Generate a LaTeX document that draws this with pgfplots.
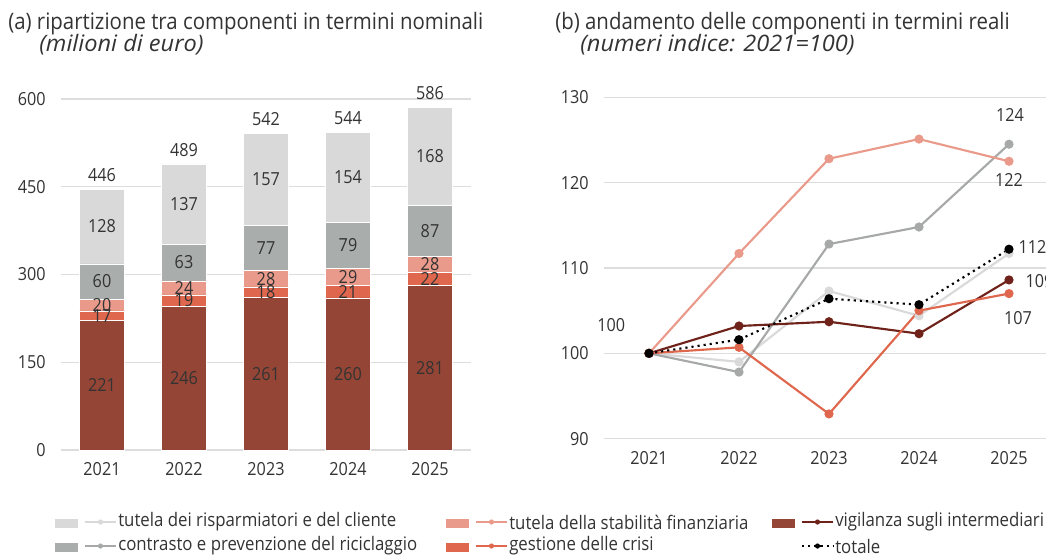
\documentclass[border=0pt]{standalone}
\usepackage{pgfplots}
\pgfplotsset{compat=1.18}
\usepackage{pgfplotstable}
\usepackage{fontspec}
\setmainfont{Open Sans}[FakeStretch=0.9]
\newfontfamily\itfont{Open Sans}[FakeStretch=1.04]

\definecolor{cTut}{HTML}{D9D9D9}
\definecolor{cCon}{HTML}{A9ADAB}
\definecolor{cConL}{HTML}{A6A9A7}
\definecolor{cSta}{HTML}{E99A8A}
\definecolor{cCri}{HTML}{DF674D}
\definecolor{cVig}{HTML}{954535}
\definecolor{cVigL}{HTML}{6E2219}
\definecolor{cTxt}{HTML}{333333}
\definecolor{cGrid}{HTML}{DDDDDD}

\newcommand\fs{\fontsize{13.5}{15}\selectfont}
\newcommand\ft{\fontsize{17}{20}\selectfont}
\newcommand\fl{\fontsize{14}{16}\selectfont}

% (a) nominal, millions of euro
\pgfplotstableread{
x vig cri sta con tut tot
0 221 17 20 60 128 446
1 246 19 24 63 137 489
2 261 18 28 77 157 542
3 260 21 29 79 154 544
4 281 22 28 87 168 586
}\nominali

% (b) real terms, 2021=100
\pgfplotstableread{
x tut con sta vig cri tot
0 100 100 100 100 100 100
1 99.0 97.8 111.7 103.2 100.7 101.6
2 107.3 112.8 122.8 103.7 92.9 106.4
3 104.4 114.8 125.1 102.3 105.0 105.7
4 111.7 124.5 122.5 108.6 107.0 112.2
}\reali

\pgfplotsset{
  common/.style={
    scale only axis,
    xmin=-0.5, xmax=4.5,
    xtick={0,...,4}, xticklabels={2021,2022,2023,2024,2025},
    axis line style={draw=none},
    major tick length=0pt,
    ymajorgrids, grid style={cGrid, line width=1.1pt},
    tick label style={font=\fs, text=cTxt},
    yticklabel style={xshift=-8pt},
    xticklabel style={yshift=-6pt},
    /pgf/number format/assume math mode=true,
    clip=false,
  },
  seg/.style={fill=#1, draw=white, line width=0.4pt,
    nodes near coords, point meta=explicit,
    every node near coord/.append style={font=\fs, text=cTxt, anchor=center}},
  ln/.style={color=#1, line width=1.6pt, mark=*, mark size=2.6pt,
    mark options={solid, fill=#1}},
}

\newcommand\legitem[5]{% x, y (px), patch colour, line colour, text
  \fill[#3] (#1,#2-3.5) rectangle ++(23,9);
  \draw[#4, line width=1.6pt] (#1+30,#2) -- ++(31,0);
  \fill[#4] (#1+45.5,#2) circle (2.6);
  \node[anchor=west, inner sep=0pt, font=\fl, text=cTxt] at (#1+63,#2) {#5};}

\begin{document}
\begin{tikzpicture}

\begin{axis}[common,
  at={(45.75pt,-337.5pt)}, anchor=south west,
  width=307.5pt, height=263.25pt,
  ymin=0, ymax=600, ytick={0,150,...,600},
  ybar stacked, bar width=34.1pt,
]
\addplot[seg=cVig] table[x=x, y=vig, meta=vig] {\nominali};
\addplot[seg=cCri] table[x=x, y=cri, meta=cri] {\nominali};
\addplot[seg=cSta] table[x=x, y=sta, meta=sta] {\nominali};
\addplot[seg=cCon] table[x=x, y=con, meta=con] {\nominali};
\addplot[seg=cTut] table[x=x, y=tut, meta=tut] {\nominali};
\end{axis}

% totals above the bars, same frame as the bar axis
\begin{axis}[
  at={(45.75pt,-337.5pt)}, anchor=south west,
  scale only axis, width=307.5pt, height=263.25pt,
  xmin=-0.5, xmax=4.5, ymin=0, ymax=600,
  hide axis, clip=false,
  /pgf/number format/assume math mode=true,
]
\addplot[draw=none, mark=none, nodes near coords, point meta=explicit,
  every node near coord/.append style={font=\fs, text=cTxt, anchor=south, yshift=2pt}]
  table[x=x, y=tot, meta=tot] {\nominali};
\end{axis}

\begin{axis}[common,
  at={(453pt,-329.0pt)}, anchor=south west,
  width=337.5pt, height=256.05pt,
  ymin=90, ymax=130, ytick={90,100,...,130},
]
\addplot[ln=cTut] table[x=x, y=tut] {\reali};
\addplot[ln=cConL] table[x=x, y=con] {\reali};
\addplot[ln=cSta] table[x=x, y=sta] {\reali};
\addplot[ln=cVigL] table[x=x, y=vig] {\reali};
\addplot[ln=cCri] table[x=x, y=cri] {\reali};
\addplot[ln=black, dash pattern=on 1.6pt off 3pt] table[x=x, y=tot] {\reali};
\node[font=\fs, text=cTxt] at (axis cs:-0.42,103.3) {100};
\node[font=\fs, text=cTxt] at (axis cs:4.01,127.9) {124};
\node[font=\fs, text=cTxt] at (axis cs:4.0,120.3) {122};
\node[font=\fs, text=cTxt] at (axis cs:4.26,112.5) {112};
\node[font=\fs, text=cTxt] at (axis cs:4.34,108.5) {109};
\node[font=\fs, text=cTxt] at (axis cs:4.1,104.1) {107};
\end{axis}

\begin{scope}[x=0.75pt, y=-0.75pt]
\node[anchor=base west, inner sep=0pt, font=\ft, text=cTxt] at (8,29)
  {(a) ripartizione tra componenti in termini nominali};
\node[anchor=base west, inner sep=0pt, font=\ft\itfont\itshape, text=cTxt] at (39,51)
  {(milioni di euro)};
\node[anchor=base west, inner sep=0pt, font=\ft, text=cTxt] at (555,29)
  {(b) andamento delle componenti in termini reali};
\node[anchor=base west, inner sep=0pt, font=\ft\itfont\itshape, text=cTxt] at (580,51)
  {(numeri indice: 2021=100)};

\legitem{55}{522}{cTut}{cTut}{tutela dei risparmiatori e del cliente}
\legitem{55}{546}{cCon}{cConL}{contrasto e prevenzione del riciclaggio}
\legitem{446}{522}{cSta}{cSta}{tutela della stabilità finanziaria}
\legitem{446}{546}{cCri}{cCri}{gestione delle crisi}
\legitem{772}{522}{cVig}{cVigL}{vigilanza sugli intermediari}
\draw[black, line width=1.6pt, dash pattern=on 1.6pt off 3pt] (802,546) -- ++(31,0);
\fill[black] (817.5,546) circle (2.6);
\node[anchor=west, inner sep=0pt, font=\fl, text=cTxt] at (835,546) {totale};

\pgfresetboundingbox
\path[use as bounding box] (0,0) rectangle (1046,554);
\end{scope}

\end{tikzpicture}
\end{document}
